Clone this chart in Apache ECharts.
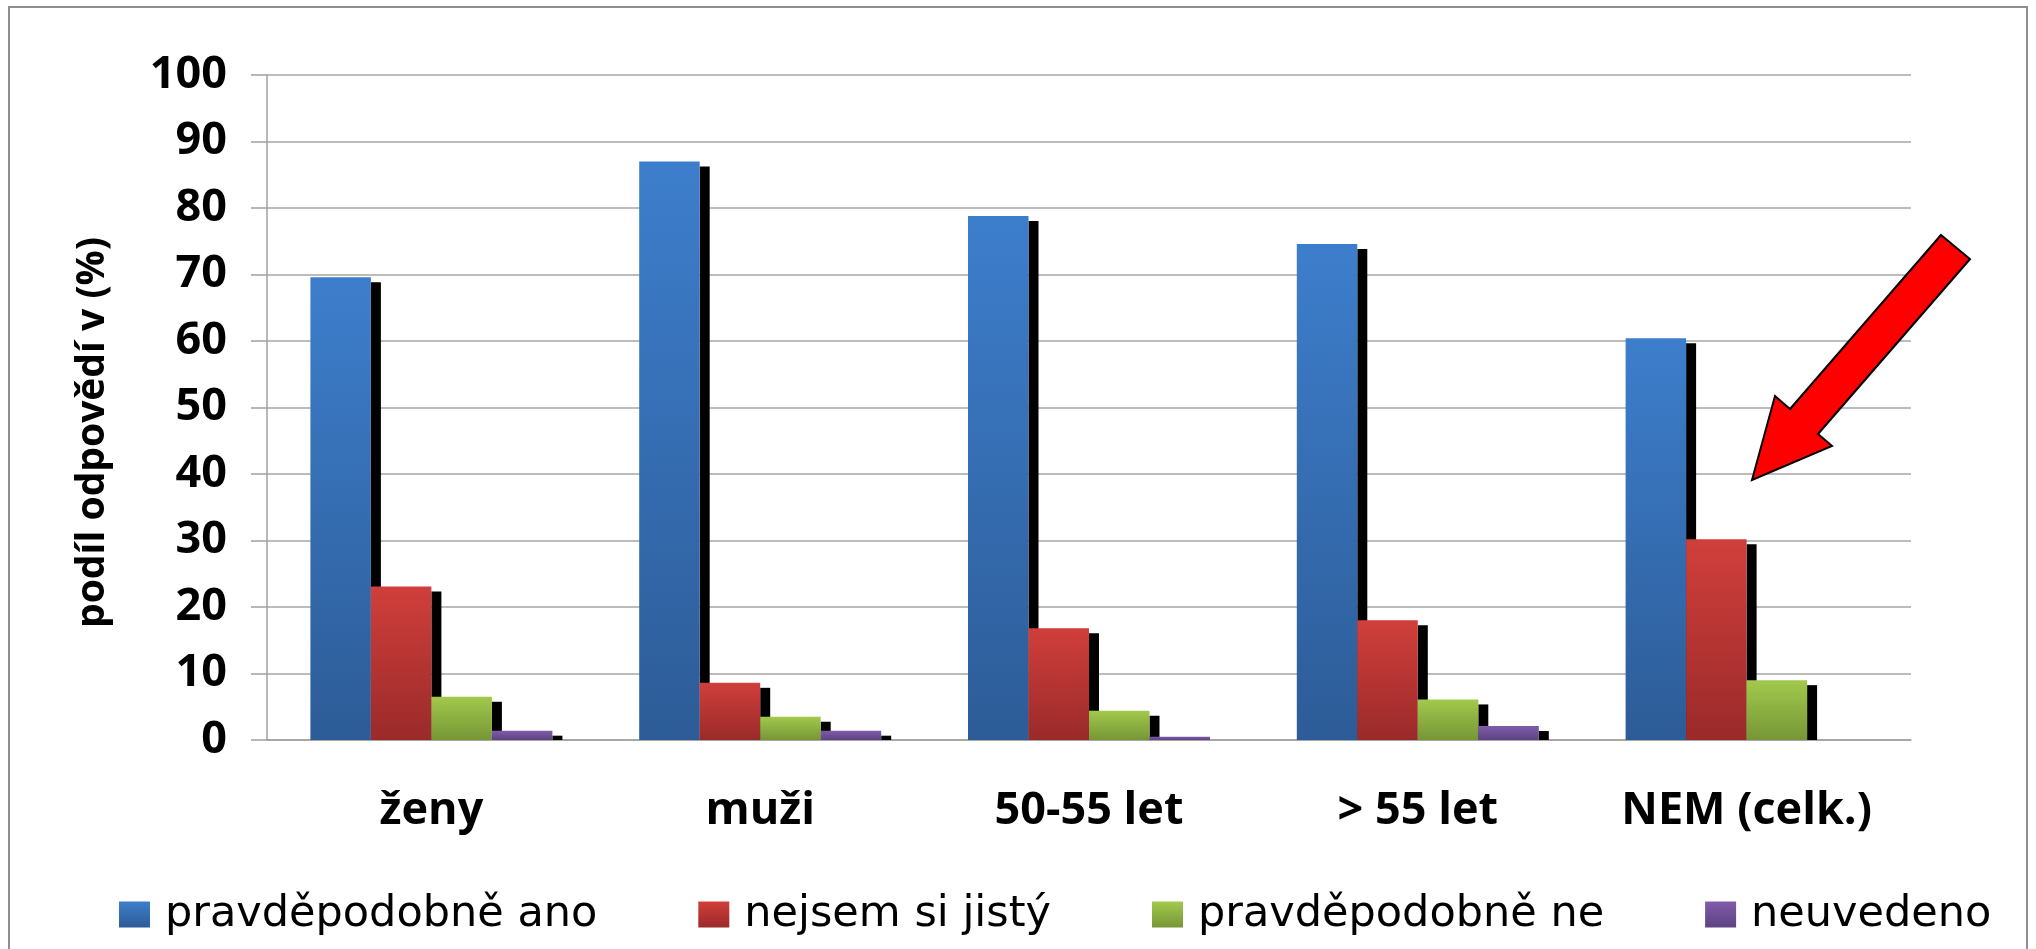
<!DOCTYPE html>
<html>
<head>
<meta charset="utf-8">
<script src="https://cdn.jsdelivr.net/npm/echarts@6/dist/echarts.min.js"></script>
<style>
html, body { margin: 0; padding: 0; background: #fff; }
#chart { width: 2036px; height: 949px; }
</style>
</head>
<body>
<div id="chart"></div>
<script>
var categories = ['ženy', 'muži', '50-55 let', '> 55 let', 'NEM (celk.)'];
var seriesNames = ['pravděpodobně ano', 'nejsem si jistý', 'pravděpodobně ne', 'neuvedeno'];
var ano = [69.6, 87.0, 78.8, 74.6, 60.4];
var nejisty = [23.1, 8.6, 16.8, 18.0, 30.2];
var ne = [6.5, 3.5, 4.4, 6.1, 9.0];
var neuvedeno = [1.4, 1.4, 0.5, 2.1, 0];
var yMin = 0, yMax = 100, yStep = 10;

var colors = [
    ['#3D7ECC', '#2D5C97'],
    ['#D03F3B', '#9A2A2A'],
    ['#A2C94C', '#769636'],
    ['#805CAB', '#5D4281']
];

function grad(c) {
    return new echarts.graphic.LinearGradient(0, 0, 0, 1, [
        { offset: 0, color: c[0] }, { offset: 1, color: c[1] }
    ]);
}

// bar + black drop shadow on its right side, next series covers the shadow
function bars(slot) {
    return function (params, api) {
        var i = api.value(0), v = api.value(1);
        var base = api.coord([i, 0]);
        var top = api.coord([i, v]);
        var w = api.size([1, 0])[0] * 0.184;
        var x = base[0] - 2 * w + slot * w;
        var h = base[1] - top[1];
        var kids = [];
        if (h - 5 > 0) kids.push({ type: 'rect', shape: { x: x + w, y: top[1] + 5, width: 10, height: h - 5 }, style: { fill: '#000' } });
        if (h > 0) kids.push({ type: 'rect', shape: { x: x, y: top[1], width: w, height: h }, style: { fill: api.visual('color') } });
        return { type: 'group', children: kids };
    };
}

function pairs(arr) { return arr.map(function (v, i) { return [i, v]; }); }

var values = [ano, nejisty, ne, neuvedeno];
var chart = echarts.init(document.getElementById('chart'));
chart.setOption({
    animation: false,
    grid: { left: 267, right: 125, top: 75, bottom: 209 },
    legend: {
        left: 114, top: 888, itemWidth: 31, itemHeight: 26, itemGap: 101, icon: 'rect',
        textStyle: { fontFamily: 'DejaVu Sans', fontSize: 43, color: '#000', padding: [0, 0, 0, 10] },
        data: seriesNames
    },
    xAxis: {
        type: 'category', data: categories,
        axisLine: { lineStyle: { color: '#a0a0a0', width: 1.5 } },
        axisTick: { length: 14, lineStyle: { color: '#a0a0a0', width: 1.5 } },
        axisLabel: { margin: 49, color: '#000', fontFamily: 'Open Sans', fontWeight: 'bold', fontSize: 45 }
    },
    yAxis: {
        type: 'value', min: yMin, max: yMax, interval: yStep,
        name: 'podíl odpovědí v (%)', nameLocation: 'middle', nameRotate: 90, nameGap: 155,
        nameTextStyle: { fontFamily: 'Open Sans', fontWeight: 'bold', fontSize: 39, color: '#000', padding: [0, 50, 0, 0] },
        axisLine: { show: true, lineStyle: { color: '#a0a0a0', width: 1.5 } },
        axisTick: { show: true, length: 16, lineStyle: { color: '#a0a0a0', width: 1.5 } },
        axisLabel: { margin: 40, color: '#000', fontFamily: 'Open Sans', fontWeight: 'bold', fontSize: 45 },
        splitLine: { lineStyle: { color: '#a6a6a6', width: 1.5 } }
    },
    series: seriesNames.map(function (name, s) {
        return {
            name: name, type: 'custom', renderItem: bars(s),
            itemStyle: { color: grad(colors[s]) },
            encode: { x: 0, y: 1 },
            data: pairs(values[s])
        };
    }),
    graphic: [
        { type: 'rect', silent: true, z: -10, shape: { x: 9, y: 7, width: 2018, height: 980 }, style: { fill: 'none', stroke: '#8e8e8e', lineWidth: 2 } },
        { type: 'polygon', silent: true, z: 100, shape: { points: [[1941, 235], [1970, 259], [1818, 434], [1832, 446], [1752, 480], [1775, 396], [1790, 409]] }, style: { fill: '#ff0000', stroke: '#000', lineWidth: 2 } }
    ]
});
</script>
</body>
</html>
